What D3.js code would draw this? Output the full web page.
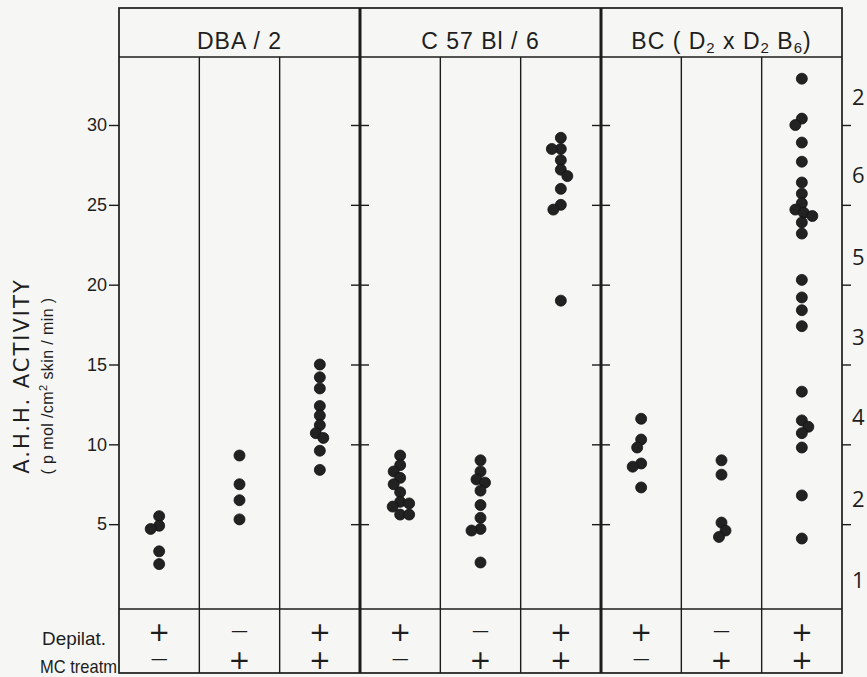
<!DOCTYPE html>
<html>
<head>
<meta charset="utf-8">
<script src="https://cdn.jsdelivr.net/npm/d3@7"></script>
<style>
  html, body { margin: 0; padding: 0; background: #f6f6f4; }
  svg { display: block; }
  text { fill: #1e1e1e; }
</style>
</head>
<body>
<div class="chart"></div>
<script>
// groups and the two treatment rows under the columns
var strains = ["DBA / 2", "C 57 Bl / 6", "BC"];
var depilat = ["+", "\u2014", "+", "+", "\u2014", "+", "+", "\u2014", "+"];
var mcTreat = ["\u2014", "+", "+", "\u2014", "+", "+", "\u2014", "+", "+"];
var yTicks = [5, 10, 15, 20, 25, 30];
var marginNotes = ["2", "6", "5", "3", "4", "2", "1"];

// A.H.H. activity per mouse, one array per column
var dba1 = [5.5, 4.7, 4.9, 3.3, 2.5];
var dba2 = [9.3, 7.5, 6.5, 5.3];
var dba3 = [15.0, 14.2, 13.5, 12.4, 11.8, 11.2, 10.7, 10.4, 9.6, 8.4];
var c57a = [9.3, 8.7, 8.3, 7.9, 7.5, 7.0, 6.4, 6.3, 6.1, 5.6, 5.6];
var c57b = [9.0, 8.3, 7.8, 7.6, 7.1, 6.2, 5.4, 4.7, 4.6, 2.6];
var c57c = [29.2, 28.5, 28.5, 27.8, 27.2, 26.8, 26.0, 25.0, 24.7, 19.0];
var bc1 = [11.6, 10.3, 9.8, 8.8, 8.6, 7.3];
var bc2 = [9.0, 8.1, 5.1, 4.6, 4.2];
var bc3 = [32.9, 30.4, 30.0, 28.9, 27.7, 26.4, 25.7, 25.1, 24.7, 24.5, 24.3, 23.9,
           23.2, 20.3, 19.2, 18.4, 17.4, 13.3, 11.5, 11.1, 10.7, 9.8, 6.8, 4.1];
var columns = [dba1, dba2, dba3, c57a, c57b, c57c, bc1, bc2, bc3];

var width = 867, height = 677;
var frameL = 119, frameR = 842, frameT = 8, headY = 57, tableY = 609, frameB = 673;
var r = 5.5;

var svg = d3.select(".chart").append("svg")
    .attr("width", width)
    .attr("height", height);

svg.append("rect").attr("width", width).attr("height", height).attr("fill", "#f6f6f4");

var x = d3.scaleBand().domain(d3.range(columns.length)).range([frameL, frameR]);
var xg = d3.scaleBand().domain(d3.range(strains.length)).range([frameL, frameR]);
var y = d3.scaleLinear().domain([0, 30]).range([604, 125]);

var ink = "#1c1c1c";
var narrow = "'Liberation Sans', Arial, sans-serif";

// frame and rules
svg.append("rect")
    .attr("x", frameL).attr("y", frameT)
    .attr("width", frameR - frameL).attr("height", frameB - frameT)
    .attr("fill", "none").attr("stroke", ink).attr("stroke-width", 1.7);

[headY, tableY].forEach(function(yy) {
    svg.append("line")
        .attr("x1", frameL).attr("x2", frameR).attr("y1", yy).attr("y2", yy)
        .attr("stroke", ink).attr("stroke-width", 1.5);
});

d3.range(1, columns.length).forEach(function(i) {
    var thick = i % 3 === 0;
    var xx = x(i);
    svg.append("line")
        .attr("x1", xx).attr("x2", xx)
        .attr("y1", thick ? frameT : headY).attr("y2", frameB)
        .attr("stroke", ink).attr("stroke-width", thick ? 3 : 1.4);
});

// axes
function strip(g) {
    g.select(".domain").remove();
    g.selectAll(".tick line").attr("stroke", ink).attr("stroke-width", 1.4);
}

svg.append("g")
    .attr("transform", "translate(" + frameL + ",0)")
    .call(d3.axisLeft(y).tickValues(yTicks).tickSize(10).tickPadding(2))
    .call(strip)
    .call(function(g) {
        g.selectAll(".tick text")
            .attr("font-family", narrow)
            .attr("font-size", 18)
            .attr("fill", ink);
    });

[x(3), x(6)].forEach(function(xx) {
    svg.append("g").attr("transform", "translate(" + xx + ",0)")
        .call(d3.axisLeft(y).tickValues(yTicks).tickSize(9).tickFormat(""))
        .call(strip);
    svg.append("g").attr("transform", "translate(" + xx + ",0)")
        .call(d3.axisRight(y).tickValues(yTicks).tickSize(9).tickFormat(""))
        .call(strip);
});

svg.append("g")
    .attr("transform", "translate(" + frameR + ",0)")
    .call(d3.axisRight(y).tickValues(yTicks).tickSize(9).tickFormat(""))
    .call(strip);

// place dots of one column side by side where they would overlap
function dodge(vals) {
    var pts = vals.map(function(v) { return { v: v, cy: y(v), dx: 0 }; })
                  .sort(function(a, b) { return a.cy - b.cy; });
    var placed = [];
    var minD = r * 1.6;
    pts.forEach(function(p, n) {
        var sign = n % 2 ? 1 : -1;
        for (var k = 0; k < 80; k++) {
            var found = false;
            var offs = [k * 0.5 * sign, -k * 0.5 * sign];
            for (var j = 0; j < offs.length; j++) {
                var ok = placed.every(function(q) {
                    return Math.hypot(q.dx - offs[j], q.cy - p.cy) >= minD;
                });
                if (ok) { p.dx = offs[j]; found = true; break; }
            }
            if (found) break;
        }
        placed.push(p);
    });
    return pts;
}

columns.forEach(function(vals, i) {
    var cx = x(i) + x.bandwidth() / 2;
    svg.append("g").selectAll("circle")
        .data(dodge(vals))
        .enter().append("circle")
        .attr("cx", function(d) { return cx + d.dx; })
        .attr("cy", function(d) { return d.cy; })
        .attr("r", r)
        .attr("fill", "#222")
        .attr("stroke", "#111")
        .attr("stroke-width", 0.8);
});

// strain headers
strains.forEach(function(s, i) {
    var t = svg.append("text")
        .attr("x", xg(i) + xg.bandwidth() / 2)
        .attr("y", 49)
        .attr("text-anchor", "middle")
        .attr("font-family", narrow)
        .attr("font-size", 23)
        .attr("letter-spacing", 1);
    if (s === "BC") {
        t.append("tspan").text("BC  ( D");
        t.append("tspan").attr("font-size", 15).attr("dy", 4).text("2");
        t.append("tspan").attr("dy", -4).text(" x D");
        t.append("tspan").attr("font-size", 15).attr("dy", 4).text("2");
        t.append("tspan").attr("dy", -4).text(" B");
        t.append("tspan").attr("font-size", 15).attr("dy", 4).text("6");
        t.append("tspan").attr("dy", -4).text(")");
    } else {
        t.text(s);
    }
});

// treatment table
[[depilat, 641], [mcTreat, 669]].forEach(function(row) {
    svg.append("g").selectAll("text")
        .data(row[0])
        .enter().append("text")
        .attr("x", function(d, i) { return x(i) + x.bandwidth() / 2; })
        .attr("y", row[1])
        .attr("text-anchor", "middle")
        .attr("font-family", "'DejaVu Sans', sans-serif")
        .attr("font-size", function(d) { return d === "+" ? 26 : 17; })
        .attr("dy", function(d) { return d === "+" ? 0 : -5; })
        .text(function(d) { return d; });
});

svg.append("text").attr("x", 42).attr("y", 645)
    .attr("font-family", narrow).attr("font-size", 19)
    .attr("textLength", 64).attr("lengthAdjust", "spacingAndGlyphs")
    .text("Depilat.");
svg.append("text").attr("x", 40).attr("y", 673)
    .attr("font-family", narrow).attr("font-size", 19)
    .attr("textLength", 77).attr("lengthAdjust", "spacingAndGlyphs")
    .text("MC treatm");

// y titles
svg.append("text")
    .attr("transform", "translate(29,376) rotate(-90)")
    .attr("text-anchor", "middle")
    .attr("font-family", "'DejaVu Sans', sans-serif")
    .attr("font-size", 21)
    .attr("letter-spacing", 2)
    .text("A.H.H.  ACTIVITY");

var sub = svg.append("text")
    .attr("transform", "translate(53,386) rotate(-90)")
    .attr("text-anchor", "middle")
    .attr("font-family", narrow)
    .attr("font-size", 16)
    .attr("letter-spacing", 0.4);
sub.append("tspan").text("( p mol /cm");
sub.append("tspan").attr("font-size", 11).attr("dy", -6).text("2");
sub.append("tspan").attr("dy", 6).text(" skin / min )");

// numbers from the neighbouring page column, cut at the edge
var noteY = [97, 175, 257, 337, 417, 499, 580];
svg.append("g").selectAll("text")
    .data(marginNotes)
    .enter().append("text")
    .attr("x", 852)
    .attr("y", function(d, i) { return noteY[i] + 8; })
    .attr("font-family", "'Open Sans', 'DejaVu Sans', sans-serif")
    .attr("font-size", 22)
    .text(function(d) { return d; });
</script>
</body>
</html>
